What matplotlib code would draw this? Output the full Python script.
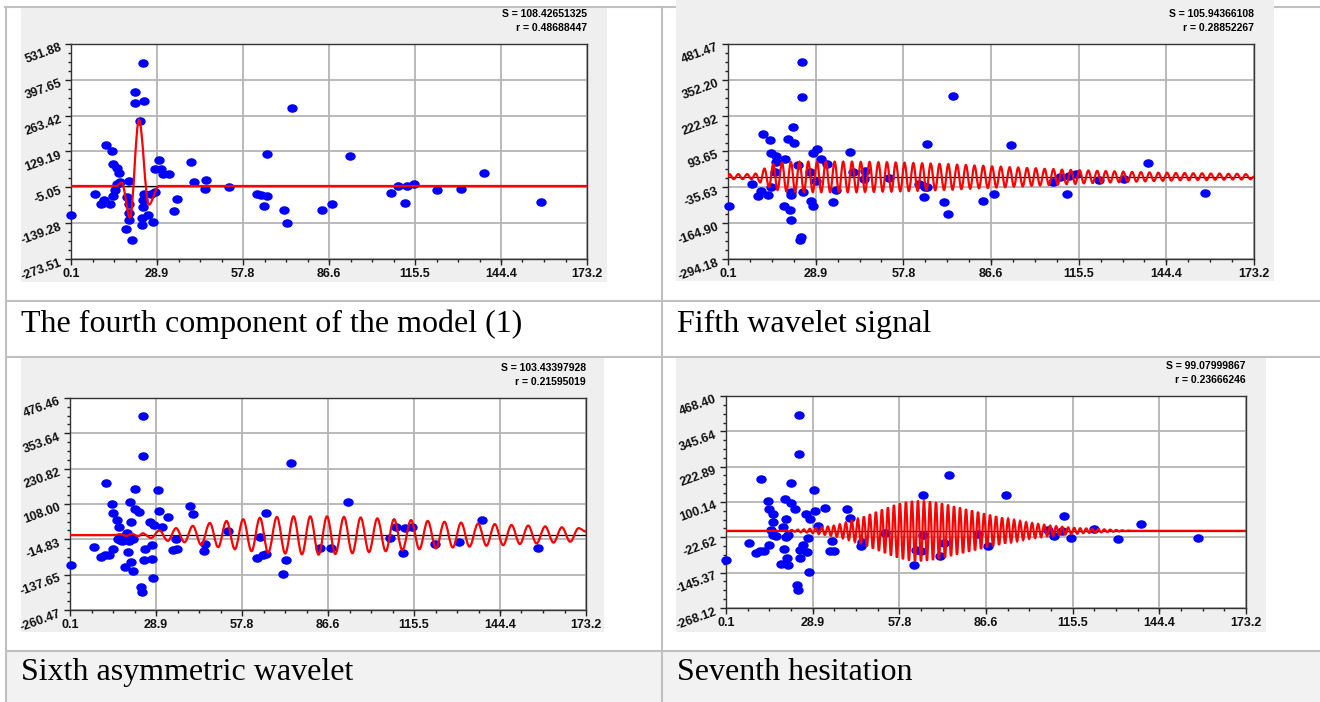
import numpy as np
import matplotlib.pyplot as plt
from matplotlib.path import Path
from matplotlib.patches import PathPatch, Rectangle
from matplotlib.ticker import FixedLocator

plt.rcParams['font.family'] = ['Liberation Sans', 'DejaVu Sans']

W, H = 1320, 702

# ---------------- data ----------------
x_labels = ['0.1', '28.9', '57.8', '86.6', '115.5', '144.4', '173.2']

captions = ['The fourth component of the model (1)', 'Fifth wavelet signal',
            'Sixth asymmetric wavelet', 'Seventh hesitation']

s_texts = ['S = 108.42651325', 'S = 105.94366108', 'S = 103.43397928', 'S = 99.07999867']
r_texts = ['r = 0.48688447', 'r = 0.28852267', 'r = 0.21595019', 'r = 0.23666246']

ylab_4 = ['531.88', '397.65', '263.42', '129.19', '-5.05', '-139.28', '-273.51']
ylab_5 = ['481.47', '352.20', '222.92', '93.65', '-35.63', '-164.90', '-294.18']
ylab_6 = ['476.46', '353.64', '230.82', '108.00', '-14.83', '-137.65', '-260.47']
ylab_7 = ['468.40', '345.64', '222.89', '100.14', '-22.62', '-145.37', '-268.12']

# points, fourth component
px_4 = [0.0, 8.0, 10.2, 10.7, 11.3, 13.1, 11.7, 14.0, 14.1, 15.6, 16.2, 15.4, 16.5, 19.7, 14.9,
        14.3, 18.8, 19.6, 19.7, 19.6, 18.6, 20.5, 21.7, 21.7, 24.4, 24.5, 23.2, 24.7, 24.4, 24.4,
        25.8, 24.0, 23.8, 27.7, 26.8, 28.2, 29.5, 28.3, 30.2, 31.1, 33.0, 35.8, 34.8, 40.4, 41.5,
        45.3, 45.1, 53.1, 62.4, 63.8, 66.0, 65.0, 65.9, 71.5, 72.7, 74.4, 84.2, 87.8, 93.6, 107.6,
        109.7, 112.0, 112.8, 115.1, 122.8, 130.9, 138.6, 157.7]
py_4 = [-107, -29, -69, -64, -54, -69, 154, 130, 84, 69, 50, 9, 15, 19, -14,
        -39, -41, -69, -100, -129, -163, -204, 351, 311, 460, 320, 243, -29, -54, -79,
        -110, -119, -145, -135, -31, -22, 96, 65, 62, 46, 44, -50, -95, 90, 15,
        21, -12, -4, -31, -34, -36, -74, 118, -91, -137, 291, -90, -66, 111, -25,
        -1, -64, 1, 6, -16, -11, 47, -61]

# points, fifth wavelet
px_5 = [0.4, 8.0, 10.0, 11.1, 13.1, 11.7, 13.9, 14.2, 15.8, 16.0, 14.2, 15.6, 19.0, 19.7, 21.8,
        21.6, 18.5, 20.4, 20.8, 20.9, 20.7, 24.5, 24.5, 24.0, 23.8, 23.1, 24.9, 27.0, 27.3, 28.0,
        28.1, 29.4, 30.7, 32.8, 29.0, 34.6, 35.8, 40.4, 41.1, 45.2, 44.8, 53.1, 62.8, 64.8, 65.5,
        64.7, 65.7, 71.2, 72.6, 74.2, 83.9, 87.5, 93.2, 107.2, 109.4, 111.5, 112.4, 114.6, 122.2,
        130.4, 138.2, 157.0]
py_5 = [-103, -24, -67, -50, -65, 157, 134, 89, 77, 55, -34, 19, 65, 138, 124,
        182, -103, -117, -62, -153, -53, 417, 292, -215, -225, 45, -53, 19, -86, -103,
        89, 103, 67, 48, -11, -90, -44, 93, 20, 25, -6, -1, -24, -36, -36,
        -69, 122, -90, -133, 294, -86, -61, 116, -18, 2, -59, 7, 12, -10,
        -5, 53, -56]

# points, sixth wavelet
px_6 = [0.5, 8.3, 10.6, 11.8, 13.2, 12.1, 14.2, 14.4, 16.0, 16.4, 14.4, 16.3, 17.7, 19.1, 20.1,
        20.5, 21.9, 21.9, 23.3, 18.5, 20.6, 21.3, 19.6, 24.7, 24.7, 24.0, 24.3, 24.9, 25.4, 26.8,
        27.5, 27.5, 28.1, 28.4, 29.6, 29.9, 31.0, 33.0, 34.6, 36.0, 35.7, 40.5, 41.3, 45.4, 45.1,
        53.0, 63.7, 62.7, 64.8, 65.8, 65.7, 71.4, 72.7, 74.1, 84.1, 87.5, 93.4, 107.3, 109.4,
        111.7, 112.5, 114.8, 122.5, 130.5, 138.4, 157.1, 17.0, 18.4, 19.8, 21.2, 18.8]
py_6 = [-103, -40, -77, -70, -70, 181, 107, 78, 54, 29, -47, -14, -20, 8, 116,
        45, 160, 92, 80, -111, -95, -124, -59, 413, 276, -180, -197, -88, -49, 46,
        -34, -84, -149, 34, 155, 83, 28, 63, -52, -49, -13, 102, 73, -32, -54,
        15, -7, -79, -70, -67, 75, -137, -86, 249, -46, -46, 114, -9, 29,
        -62, 25, 28, -31, -23, 54, -45, -18, -10, -22, -12, 0]

# points, seventh hesitation
px_7 = [0.1, 7.9, 10.2, 11.3, 12.8, 11.7, 14.0, 14.3, 15.9, 15.9, 14.3, 15.9, 15.2, 16.6, 19.1,
        19.7, 20.0, 21.7, 21.7, 23.2, 18.3, 20.9, 20.4, 19.4, 20.1, 20.8, 24.5, 24.5, 23.8, 24.0,
        24.7, 24.6, 25.7, 26.7, 27.1, 28.1, 27.8, 27.4, 29.5, 29.8, 30.6, 33.0, 34.7, 36.1, 35.5,
        40.4, 41.3, 45.0, 45.3, 53.0, 62.7, 63.4, 64.9, 65.7, 65.7, 71.2, 72.6, 74.2, 84.1, 87.3,
        93.3, 107.2, 109.3, 112.5, 112.1, 114.8, 122.7, 130.7, 138.4, 157.3]
py_7 = [-103, -41, -77, -70, -70, 180, 103, 76, 57, 31, -49, -15, 2, -18, 14,
        112, 42, 166, 97, 76, -116, -120, -95, -63, -21, -13, 404, 266, -187, -204,
        -96, -66, -49, 57, -72, 40, -142, -24, 143, 70, 17, 81, -70, -70, -36,
        77, 44, -52, -39, -7, -120, -65, -71, -13, 126, -88, -44, 193, -10, -52,
        123, 2, -17, 53, 0, -26, 5, -29, 22, -24]

# red model curves: turning points
cx_4 = [0.1, 15.3, 17.1, 19.9, 22.9, 26.2, 29.6, 173.2]
cy_4 = [0, 0, 12, -118, 248, -70, 0, 0]

cx_5 = [0.1, 0.6, 2.0, 3.5, 4.9, 6.4, 7.8, 9.2, 10.7, 12.1, 13.6,
        15.0, 16.4, 17.9, 19.3, 20.8, 22.2, 23.6, 25.1, 26.5, 28.0,
        29.4, 30.8, 32.3, 33.7, 35.2, 36.6, 38.0, 39.5, 40.9, 42.4,
        43.8, 45.2, 46.7, 48.1, 49.6, 51.0, 52.4, 53.9, 55.3, 56.8,
        58.2, 59.6, 61.1, 62.5, 64.0, 65.4, 66.8, 68.3, 69.7, 71.2,
        72.6, 74.0, 75.5, 76.9, 78.4, 79.8, 81.2, 82.7, 84.1, 85.6,
        87.0, 88.4, 89.9, 91.3, 92.8, 94.2, 95.6, 97.1, 98.5, 100.0,
        101.4, 102.8, 104.3, 105.7, 107.2, 108.6, 110.0, 111.5, 112.9, 114.4,
        115.8, 117.2, 118.7, 120.1, 121.6, 123.0, 124.4, 125.9, 127.3, 128.8,
        130.2, 131.6, 133.1, 134.5, 136.0, 137.4, 138.8, 140.3, 141.7, 143.2,
        144.6, 146.0, 147.5, 148.9, 150.4, 151.8, 153.2, 154.7, 156.1, 157.6,
        159.0, 160.4, 161.9, 163.3, 164.8, 166.2, 167.6, 169.1, 170.5, 172.0, 173.2]
cy_5 = [3, 12, -6, 12, -6, 12, -6, 14, -18, 32, -35,
        48, -45, 54, -50, 56, -52, 57, -53, 57, -53,
        57, -53, 57, -53, 57, -53, 57, -53, 57, -53,
        56, -52, 56, -52, 55, -51, 55, -51, 54, -50,
        53, -49, 52, -48, 51, -47, 50, -46, 49, -45,
        48, -44, 46, -42, 45, -41, 43, -39, 42, -38,
        40, -36, 39, -35, 37, -33, 36, -32, 34, -30,
        33, -29, 31, -27, 30, -26, 28, -24, 27, -23,
        26, -21, 25, -20, 24, -19, 23, -18, 22, -17,
        21, -16, 20, -15, 19, -14, 18, -13, 17, -12,
        17, -11, 16, -10, 16, -10, 15, -9, 15, -9,
        14, -8, 14, -8, 13, -7, 13, -7, 12, -6, 3]

cx_6 = [0.1, 14.9, 17.0, 19.0, 21.0, 23.0, 24.5, 27.3, 30.1,
        32.9, 35.7, 38.5, 41.3, 44.1, 47.0, 49.8, 52.6, 55.4, 58.2,
        61.0, 63.8, 66.6, 69.5, 72.3, 75.1, 77.9, 80.7, 83.5, 86.3,
        89.1, 92.0, 94.8, 97.6, 100.4, 103.2, 106.0, 108.8, 111.6, 114.5,
        117.3, 120.1, 122.9, 125.7, 128.5, 131.3, 134.1, 137.0, 139.8, 142.6,
        145.4, 148.2, 151.0, 153.8, 156.6, 159.5, 162.3, 165.1, 167.9, 170.7, 173.2]
cy_6 = [0, 0, 3, -3, 4, -4, 6, -10, 16,
        -20, 24, -25, 32, -34, 42, -42, 49, -49, 55,
        -56, 60, -61, 63, -64, 65, -67, 65, -68, 65,
        -66, 63, -63, 61, -59, 58, -56, 55, -52, 52,
        -49, 49, -46, 46, -43, 43, -40, 40, -37, 38,
        -35, 35, -31, 33, -29, 30, -26, 27, -23, 24, 12]

cx_7 = [0.1, 19.3,
        20, 21, 22, 23, 24, 25, 26, 27, 28, 29,
        30, 31, 32, 33, 34, 35, 36, 37, 38, 39,
        40, 41, 42, 43, 44, 45, 46, 47, 48, 49,
        50, 51, 52, 53, 54, 55, 56, 57, 58, 59,
        60, 61, 62, 63, 64, 65, 66, 67, 68, 69,
        70, 71, 72, 73, 74, 75, 76, 77, 78, 79,
        80, 81, 82, 83, 84, 85, 86, 87, 88, 89,
        90, 91, 92, 93, 94, 95, 96, 97, 98, 99,
        100, 101, 102, 103, 104, 105, 106, 107, 108, 109,
        110, 111, 112, 113, 114, 115, 116, 117, 118, 119,
        120, 121, 122, 123, 124, 125, 126, 127, 128, 129,
        130, 131, 132, 133, 134, 135, 173.2]
cy_7 = [0, 0,
        2, -2, 3, -3, 4, -5, 5, -6, 7, -8,
        10, -11, 12, -14, 15, -17, 18, -21, 23, -26,
        29, -32, 35, -38, 42, -46, 50, -54, 58, -62,
        66, -70, 74, -78, 82, -86, 90, -93, 96, -99,
        101, -103, 104, -105, 105, -106, 105, -104, 103, -102,
        100, -98, 96, -94, 91, -88, 86, -83, 81, -78,
        76, -73, 71, -68, 66, -63, 61, -58, 56, -53,
        51, -49, 46, -44, 42, -40, 38, -36, 34, -32,
        30, -28, 27, -25, 24, -22, 21, -19, 18, -17,
        16, -15, 14, -13, 12, -11, 10, -10, 9, -8,
        8, -7, 7, -6, 6, -5, 5, -4, 4, -3,
        3, -2, 2, -1, 1, 0, 0]

# ---------------- figure ----------------
fig = plt.figure(figsize=(W / 100, H / 100), dpi=100)
bg = fig.add_axes([0, 0, 1, 1])
bg.set_xlim(0, W)
bg.set_ylim(H, 0)
bg.axis('off')

line_c = '#c0c0c0'
bg.add_patch(Rectangle((6, 651), W - 6, H - 651, fc='#f2f2f2', ec='none'))
bg.plot([5, W], [7, 7], color=line_c, lw=1.5)
for yy in [301, 357, 651]:
    bg.plot([6, W], [yy, yy], color=line_c, lw=1.5)
for xx in [6, 662]:
    bg.plot([xx, xx], [7, H], color=line_c, lw=1.5)

# chart background images
for (a, b, c, d) in [(21, 8, 607, 282), (676, 0, 1274, 281), (21, 358, 604, 632), (676, 358, 1266, 632)]:
    bg.add_patch(Rectangle((a, b), c - a, d - b, fc='#efefef', ec='none', zorder=2))

bg.text(21, 332, captions[0], family='Liberation Serif', fontsize=23, va='baseline')
bg.text(677, 332, captions[1], family='Liberation Serif', fontsize=23, va='baseline')
bg.text(21, 680, captions[2], family='Liberation Serif', fontsize=23, va='baseline')
bg.text(677, 680, captions[3], family='Liberation Serif', fontsize=23, va='baseline')

circ = Path.unit_circle()
ell = Path(circ.vertices * [1.0, 0.82], circ.codes)


def smooth(xs, ys):
    verts = [(xs[0], ys[0])]
    codes = [Path.MOVETO]
    for i in range(len(xs) - 1):
        d = (xs[i + 1] - xs[i]) * 0.36
        verts += [(xs[i] + d, ys[i]), (xs[i + 1] - d, ys[i + 1]), (xs[i + 1], ys[i + 1])]
        codes += [Path.CURVE4] * 3
    return Path(verts, codes)


def panel(box, ylabels, px, py, cx, cy, s_txt, r_txt):
    x0, y0, x1, y1 = box
    ax = fig.add_axes([x0 / W, 1 - y1 / H, (x1 - x0) / W, (y1 - y0) / H])
    yt = [float(s) for s in ylabels]
    xt = [float(s) for s in x_labels]
    ax.set_xlim(xt[0], xt[-1])
    ax.set_ylim(yt[-1], yt[0])
    ax.xaxis.set_major_locator(FixedLocator(xt))
    ax.set_xticklabels(x_labels, fontweight='bold')
    ax.yaxis.set_major_locator(FixedLocator(yt))
    ax.set_yticklabels([])
    ax.xaxis.set_minor_locator(FixedLocator(np.linspace(xt[0], xt[-1], 25)))
    ax.yaxis.set_minor_locator(FixedLocator(np.linspace(yt[-1], yt[0], 25)))
    ax.tick_params(which='major', direction='out', length=4, width=1, color='#222',
                   labelsize=9, pad=2.5, labelcolor='#111')
    ax.tick_params(which='minor', direction='out', length=2.5, width=1, color='#222')
    ax.grid(True, which='major', color='#b4b4b4', lw=1.3)
    ax.set_axisbelow(True)
    for sp in ax.spines.values():
        sp.set_color('#333')
        sp.set_linewidth(1.0)
    ax.axhline(0, color='black', lw=0.9, zorder=1.5)
    ax.plot(px, py, ls='none', marker=ell, ms=7.5, color='#0000ff', mew=0,
            clip_on=False, zorder=3)
    ax.add_patch(PathPatch(smooth(cx, cy), fc='none', ec='#ff0000', lw=1.6, zorder=4))
    for v, s in zip(yt, ylabels):
        ax.annotate(s, xy=(0, v), xycoords=('axes fraction', 'data'), xytext=(-7.0, -2.4),
                    textcoords='offset points', rotation=20, rotation_mode='anchor',
                    ha='right', va='center', fontsize=9, fontweight='bold', color='#111',
                    annotation_clip=False)
    bg.text(x1, y0 - 30, s_txt, ha='right', va='center', fontsize=7.5, fontweight='bold', zorder=5)
    bg.text(x1, y0 - 16, r_txt, ha='right', va='center', fontsize=7.5, fontweight='bold', zorder=5)
    return ax


panel((71, 44, 587, 259), ylab_4, px_4, py_4, cx_4, cy_4, s_texts[0], r_texts[0])
panel((728, 44, 1254, 259), ylab_5, px_5, py_5, cx_5, cy_5, s_texts[1], r_texts[1])
panel((70, 398, 586, 610), ylab_6, px_6, py_6, cx_6, cy_6, s_texts[2], r_texts[2])
panel((726, 396, 1246, 608), ylab_7, px_7, py_7, cx_7, cy_7, s_texts[3], r_texts[3])

fig.savefig('out.png', dpi=100)
